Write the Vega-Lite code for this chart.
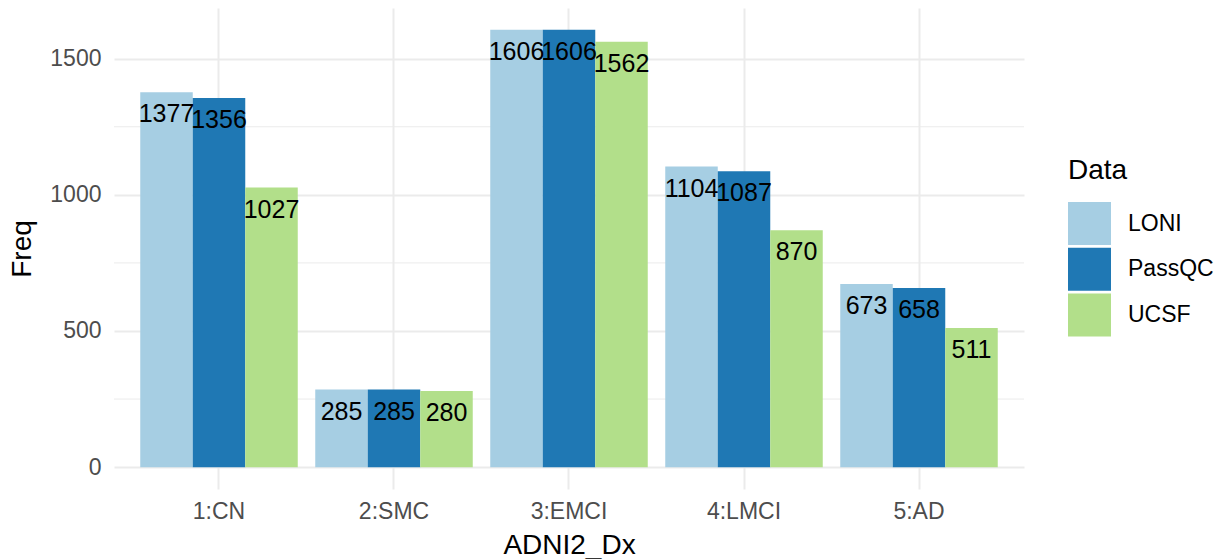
{
  "$schema": "https://vega.github.io/schema/vega-lite/v6.json",
  "width": 910,
  "height": 481,
  "autosize": {"type": "none"},
  "padding": {"left": 114, "top": 8, "right": 200, "bottom": 70},
  "background": "white",
  "config": {"view": {"stroke": null}, "font": "Liberation Sans"},
  "datasets": {
    "counts": [
      {"ADNI2_Dx": "1:CN", "Data": "LONI", "Freq": 1377},
      {"ADNI2_Dx": "1:CN", "Data": "PassQC", "Freq": 1356},
      {"ADNI2_Dx": "1:CN", "Data": "UCSF", "Freq": 1027},
      {"ADNI2_Dx": "2:SMC", "Data": "LONI", "Freq": 285},
      {"ADNI2_Dx": "2:SMC", "Data": "PassQC", "Freq": 285},
      {"ADNI2_Dx": "2:SMC", "Data": "UCSF", "Freq": 280},
      {"ADNI2_Dx": "3:EMCI", "Data": "LONI", "Freq": 1606},
      {"ADNI2_Dx": "3:EMCI", "Data": "PassQC", "Freq": 1606},
      {"ADNI2_Dx": "3:EMCI", "Data": "UCSF", "Freq": 1562},
      {"ADNI2_Dx": "4:LMCI", "Data": "LONI", "Freq": 1104},
      {"ADNI2_Dx": "4:LMCI", "Data": "PassQC", "Freq": 1087},
      {"ADNI2_Dx": "4:LMCI", "Data": "UCSF", "Freq": 870},
      {"ADNI2_Dx": "5:AD", "Data": "LONI", "Freq": 673},
      {"ADNI2_Dx": "5:AD", "Data": "PassQC", "Freq": 658},
      {"ADNI2_Dx": "5:AD", "Data": "UCSF", "Freq": 511}
    ],
    "minor": [{"Freq": 250}, {"Freq": 750}, {"Freq": 1250}]
  },
  "layer": [
    {
      "data": {"name": "minor"},
      "mark": {"type": "rule", "color": "#EBEBEB", "strokeWidth": 1},
      "encoding": {
        "y": {
          "field": "Freq", "type": "quantitative",
          "scale": {"domain": [-80.3, 1686.3], "nice": false, "zero": false},
          "axis": {
            "values": [0, 500, 1000, 1500], "format": "d", "title": "Freq", "domain": false, "ticks": false,
            "grid": true, "gridColor": "#EBEBEB", "gridWidth": 2,
            "labelFontSize": 23, "labelColor": "#4D4D4D", "labelPadding": 13,
            "titleFontSize": 28, "titleFontWeight": "normal", "titleColor": "black", "titlePadding": 13
          }
        }
      }
    },
    {
      "data": {"name": "counts"},
      "mark": {"type": "bar"},
      "encoding": {
        "x": {
          "field": "ADNI2_Dx", "type": "nominal",
          "scale": {"paddingInner": 0.1, "paddingOuter": 0.15},
          "axis": {
            "title": "ADNI2_Dx", "labelAngle": 0, "domain": false, "ticks": false,
            "grid": true, "gridColor": "#EBEBEB", "gridWidth": 2, "bandPosition": 0.5,
            "labelFontSize": 23, "labelColor": "#4D4D4D", "labelPadding": 11,
            "titleFontSize": 28, "titleFontWeight": "normal", "titleColor": "black", "titlePadding": 8
          }
        },
        "xOffset": {"field": "Data", "type": "nominal", "sort": ["LONI", "PassQC", "UCSF"]},
        "y": {
          "field": "Freq", "type": "quantitative",
          "scale": {"domain": [-80.3, 1686.3], "nice": false, "zero": false},
          "axis": {
            "values": [0, 500, 1000, 1500], "format": "d", "title": "Freq", "domain": false, "ticks": false,
            "grid": true, "gridColor": "#EBEBEB", "gridWidth": 2,
            "labelFontSize": 23, "labelColor": "#4D4D4D", "labelPadding": 13,
            "titleFontSize": 28, "titleFontWeight": "normal", "titleColor": "black", "titlePadding": 13
          }
        },
        "color": {
          "field": "Data", "type": "nominal",
          "scale": {"domain": ["LONI", "PassQC", "UCSF"], "range": ["#A6CEE3", "#1F78B4", "#B2DF8A"]},
          "legend": {
            "orient": "none", "legendX": 954, "legendY": 149, "title": "Data",
            "titleFontSize": 28, "titleFontWeight": "normal", "titleColor": "black",
            "labelFontSize": 23, "labelColor": "black",
            "symbolType": "square", "symbolSize": 1849, "symbolStrokeWidth": 0, "symbolOpacity": 1,
            "rowPadding": 2.7, "labelOffset": 17, "titlePadding": 17
          }
        }
      }
    },
    {
      "data": {"name": "counts"},
      "mark": {"type": "text", "align": "center", "baseline": "middle", "dy": 22, "fontSize": 25, "color": "black"},
      "encoding": {
        "x": {"field": "ADNI2_Dx", "type": "nominal"},
        "xOffset": {"field": "Data", "type": "nominal", "sort": ["LONI", "PassQC", "UCSF"]},
        "y": {"field": "Freq", "type": "quantitative"},
        "text": {"field": "Freq", "type": "quantitative", "format": "d"}
      }
    }
  ]
}
